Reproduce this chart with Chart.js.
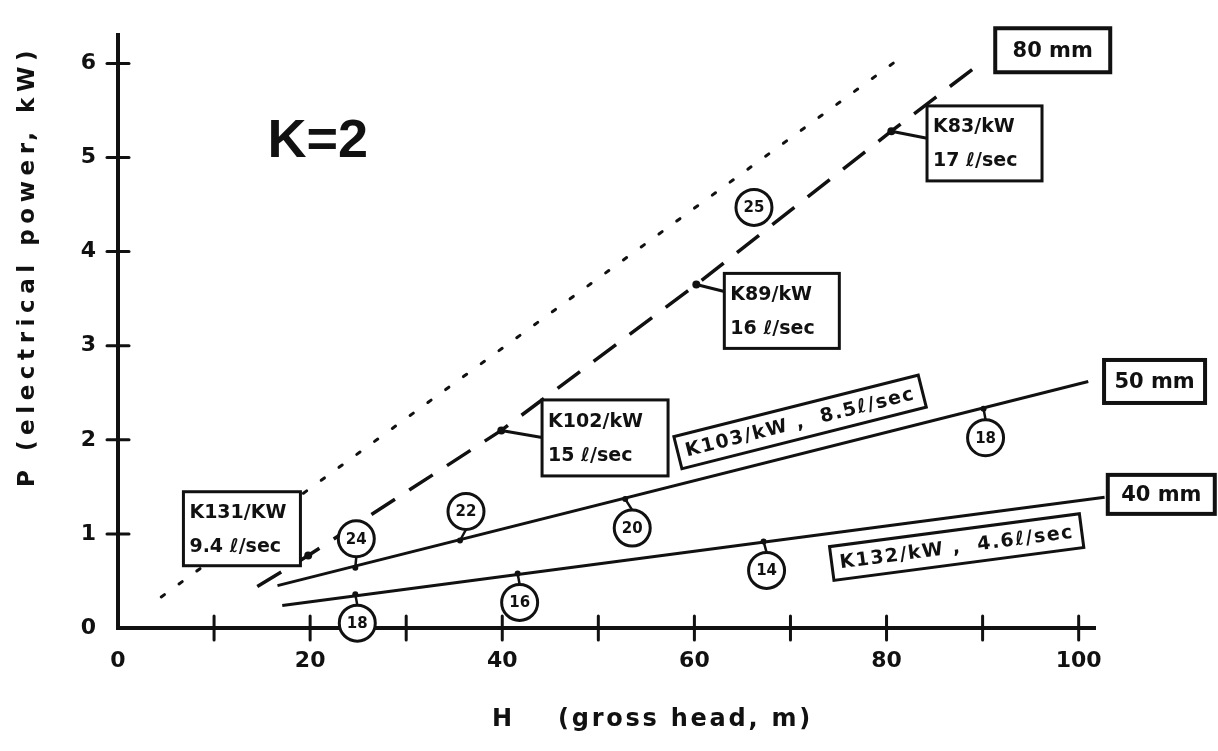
<!DOCTYPE html>
<html lang="en">
<head>
<meta charset="UTF-8">
<title>K=2 — P vs H</title>
<script src="https://cdn.jsdelivr.net/npm/chart.js"></script>
<style>
  html, body { margin: 0; padding: 0; background: #fff; }
</style>
</head>
<body>
<canvas id="chart" width="1218" height="751"></canvas>
<script>
// H = gross head (m), P = electrical power (kW)
const dottedH = [4.5, 82];
const dottedP = [0.33, 6.1];

// 80 mm pipe, dashed, passes through the K-points
const pipe80H = [14.5, 19.8, 39.9, 60.2, 80.5, 90];
const pipe80P = [0.44, 0.77, 2.1, 3.65, 5.28, 6.02];

const pipe50H = [16.6, 101];
const pipe50P = [0.45, 2.62];
const meas50H = [24.7, 35.6, 52.8, 90.1];
const meas50P = [0.64, 0.93, 1.37, 2.33];
const meas50N = ['24', '22', '20', '18'];

const pipe40H = [17.1, 102.7];
const pipe40P = [0.24, 1.39];
const meas40H = [24.7, 41.6, 67.2];
const meas40P = [0.36, 0.58, 0.92];
const meas40N = ['18', '16', '14'];

const loneH = [66.2];
const loneP = [4.47];
const loneN = ['25'];

const xTicks = [0, 10, 20, 30, 40, 50, 60, 70, 80, 90, 100];
const yTicks = [0, 1, 2, 3, 4, 5, 6];

const ink = '#111';
const hand = '"DejaVu Sans", sans-serif';

const pts = (hs, ps) => hs.map((h, i) => ({x: h, y: ps[i]}));

// label layout (positions in H/P units, sizes in px)
const kBoxes = [
  {pt: 1, at: [12.9, 1.055], w: 117, h: 74, lines: ['K131/KW', '9.4 ℓ/sec'], link: false},
  {pt: 2, at: [50.7, 2.02], w: 126, h: 76, lines: ['K102/kW', '15 ℓ/sec'], link: true},
  {pt: 3, at: [69.1, 3.37], w: 115, h: 75, lines: ['K89/kW', '16 ℓ/sec'], link: true},
  {pt: 4, at: [90.2, 5.15], w: 115, h: 75, lines: ['K83/kW', '17 ℓ/sec'], link: true}
];
const slantBoxes = [
  {line: 50, at: [71.0, 2.19], w: 252, h: 33, text: 'K103/kW ,  8.5ℓ/sec'},
  {line: 40, at: [87.3, 0.86], w: 252, h: 34, text: 'K132/kW ,  4.6ℓ/sec'}
];
const sizeBoxes = [
  {at: [97.3, 6.14], w: 115, h: 44, text: '80 mm'},
  {at: [107.9, 2.62], w: 101, h: 43, text: '50 mm'},
  {at: [108.6, 1.42], w: 107, h: 39, text: '40 mm'}
];
const side50 = [-1, -1, 1, 1];
const shift50 = [1, 6, 7, 2];
const side40 = [1, 1, 1];
const shift40 = [2, 2, 3];

function fitText(ctx, text, x, y, target) {
  ctx.letterSpacing = '0px';
  const w = ctx.measureText(text).width;
  ctx.letterSpacing = ((target - w) / text.length) + 'px';
  ctx.fillText(text, x, y);
  ctx.letterSpacing = '0px';
}

const inkPlugin = {
  id: 'ink',
  afterDraw(chart) {
    const {ctx, chartArea: area, scales: {x, y}} = chart;
    const px = h => x.getPixelForValue(h);
    const py = p => y.getPixelForValue(p);
    ctx.save();
    ctx.strokeStyle = ink;
    ctx.fillStyle = ink;
    ctx.lineCap = 'round';

    // tick crosses on both axes
    ctx.lineWidth = 3;
    yTicks.forEach(v => {
      if (v === 0) return;
      ctx.beginPath();
      ctx.moveTo(area.left - 11, py(v));
      ctx.lineTo(area.left + 11, py(v));
      ctx.stroke();
    });
    xTicks.forEach(v => {
      if (v === 0) return;
      ctx.beginPath();
      ctx.moveTo(px(v), area.bottom - 12);
      ctx.lineTo(px(v), area.bottom + 12);
      ctx.stroke();
    });

    // axis titles
    ctx.textBaseline = 'middle';
    ctx.textAlign = 'left';
    ctx.font = 'bold 23px ' + hand;
    ctx.save();
    ctx.translate(28, 487);
    ctx.rotate(-Math.PI / 2);
    fitText(ctx, 'P (electrical power, kW)', 0, 0, 442);
    ctx.restore();
    ctx.font = 'bold 24px ' + hand;
    ctx.fillText('H', 492, 720);
    fitText(ctx, '(gross head, m)', 558, 720, 255);

    // K = 2
    ctx.font = 'bold 54px "Liberation Sans", sans-serif';
    ctx.textAlign = 'center';
    ctx.fillText('K=2', px(20.8), py(5.16));

    // K boxes on the 80 mm line
    kBoxes.forEach(b => {
      const cx = px(b.at[0]), cy = py(b.at[1]);
      const dx = px(pipe80H[b.pt]), dy = py(pipe80P[b.pt]);
      if (b.link) {
        ctx.lineWidth = 3;
        ctx.beginPath();
        ctx.moveTo(dx, dy);
        ctx.lineTo(cx - b.w / 2, dy + 7);
        ctx.stroke();
      }
      ctx.fillStyle = '#fff';
      ctx.fillRect(cx - b.w / 2, cy - b.h / 2, b.w, b.h);
      ctx.fillStyle = ink;
      ctx.lineWidth = 3;
      ctx.strokeRect(cx - b.w / 2, cy - b.h / 2, b.w, b.h);
      ctx.font = 'bold 19px ' + hand;
      ctx.textAlign = 'left';
      ctx.fillText(b.lines[0], cx - b.w / 2 + 6, cy - 16);
      ctx.fillText(b.lines[1], cx - b.w / 2 + 6, cy + 18);
    });

    // slanted boxes along the 50 and 40 mm lines
    slantBoxes.forEach(b => {
      const hs = b.line === 50 ? pipe50H : pipe40H;
      const ps = b.line === 50 ? pipe50P : pipe40P;
      const ang = Math.atan2(py(ps[1]) - py(ps[0]), px(hs[1]) - px(hs[0]));
      ctx.save();
      ctx.translate(px(b.at[0]), py(b.at[1]));
      ctx.rotate(ang);
      ctx.fillStyle = '#fff';
      ctx.fillRect(-b.w / 2, -b.h / 2, b.w, b.h);
      ctx.lineWidth = 3;
      ctx.strokeRect(-b.w / 2, -b.h / 2, b.w, b.h);
      ctx.fillStyle = ink;
      ctx.font = 'bold 19px ' + hand;
      ctx.textAlign = 'center';
      fitText(ctx, b.text, 0, 1, b.w - 16);
      ctx.restore();
    });

    // pipe size boxes
    sizeBoxes.forEach(b => {
      const cx = px(b.at[0]), cy = py(b.at[1]);
      ctx.fillStyle = '#fff';
      ctx.fillRect(cx - b.w / 2, cy - b.h / 2, b.w, b.h);
      ctx.fillStyle = ink;
      ctx.lineWidth = 4;
      ctx.strokeRect(cx - b.w / 2, cy - b.h / 2, b.w, b.h);
      ctx.font = 'bold 21px ' + hand;
      ctx.textAlign = 'center';
      ctx.fillText(b.text, cx, cy + 1);
    });

    // circled turbine numbers
    const ring = (cx, cy, n) => {
      ctx.beginPath();
      ctx.arc(cx, cy, 18, 0, Math.PI * 2);
      ctx.fillStyle = '#fff';
      ctx.fill();
      ctx.lineWidth = 3;
      ctx.stroke();
      ctx.fillStyle = ink;
      ctx.font = 'bold 15px ' + hand;
      ctx.textAlign = 'center';
      ctx.fillText(n, cx, cy + 1);
    };
    const tagged = (hs, ps, ns, side, shift) => hs.forEach((h, i) => {
      const mx = px(h), my = py(ps[i]);
      const cx = mx + shift[i], cy = my + side[i] * 29;
      ctx.lineWidth = 2.5;
      ctx.beginPath();
      ctx.moveTo(mx, my);
      ctx.lineTo(cx, cy - side[i] * 18);
      ctx.stroke();
      ring(cx, cy, ns[i]);
    });
    tagged(meas50H, meas50P, meas50N, side50, shift50);
    tagged(meas40H, meas40P, meas40N, side40, shift40);
    loneH.forEach((h, i) => ring(px(h), py(loneP[i]), loneN[i]));

    ctx.restore();
  }
};

new Chart(document.getElementById('chart'), {
  type: 'scatter',
  data: {
    datasets: [
      {data: pts(dottedH, dottedP), showLine: true, borderColor: ink, borderWidth: 3,
       borderDash: [4, 18], pointRadius: 0, borderCapStyle: 'round'},
      {data: pts(pipe80H, pipe80P), showLine: true, borderColor: ink, borderWidth: 3.5,
       borderDash: [28, 17], pointRadius: pipe80H.map((h, i) => (i === 0 || i === pipe80H.length - 1) ? 0 : 4),
       pointBackgroundColor: ink, pointBorderWidth: 0},
      {data: pts(pipe50H, pipe50P), showLine: true, borderColor: ink, borderWidth: 3, pointRadius: 0, clip: false},
      {data: pts(pipe40H, pipe40P), showLine: true, borderColor: ink, borderWidth: 3, pointRadius: 0, clip: false},
      {data: pts(meas50H, meas50P), pointRadius: 3, pointBackgroundColor: ink, pointBorderWidth: 0},
      {data: pts(meas40H, meas40P), pointRadius: 3, pointBackgroundColor: ink, pointBorderWidth: 0}
    ]
  },
  options: {
    responsive: false,
    animation: false,
    layout: {padding: {top: 25, right: 123, left: 0, bottom: 0}},
    plugins: {legend: {display: false}, tooltip: {enabled: false}},
    scales: {
      x: {
        type: 'linear', min: 0, max: 101.7,
        afterBuildTicks: s => { s.ticks = xTicks.map(v => ({value: v})); },
        afterFit: s => { s.height = 123; },
        grid: {display: false, drawTicks: false, tickLength: 0},
        border: {display: true, color: ink, width: 4},
        ticks: {
          autoSkip: false, maxRotation: 0, padding: 20, color: ink,
          font: {family: hand, size: 22, weight: 'bold'},
          callback: v => (v % 20 === 0 ? String(v) : '')
        }
      },
      y: {
        type: 'linear', min: 0, max: 6.3,
        afterBuildTicks: s => { s.ticks = yTicks.map(v => ({value: v})); },
        afterFit: s => { s.width = 118; },
        grid: {display: false, drawTicks: false, tickLength: 0},
        border: {display: true, color: ink, width: 4},
        ticks: {
          padding: 22, color: ink,
          font: {family: hand, size: 22, weight: 'bold'},
          callback: v => String(v)
        }
      }
    }
  },
  plugins: [inkPlugin]
});
</script>
</body>
</html>
